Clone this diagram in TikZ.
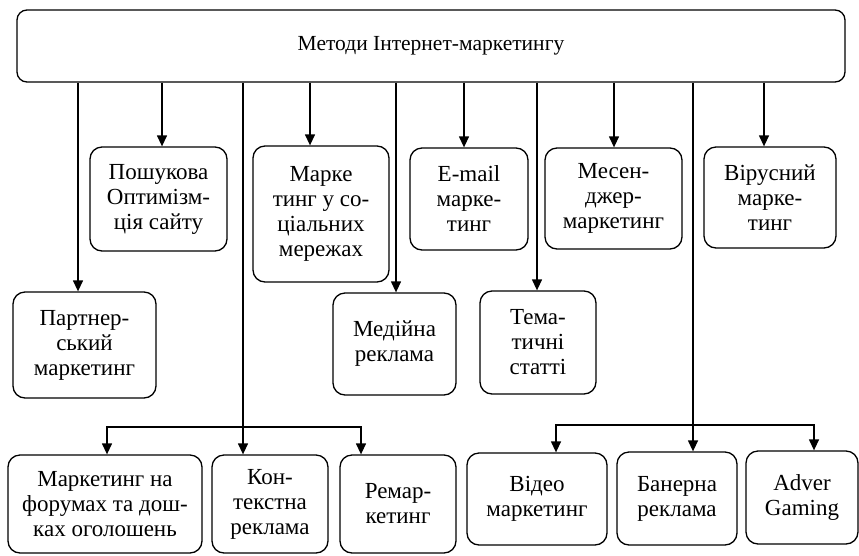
\documentclass[tikz,border=0pt]{standalone}
\usepackage{fontspec}
\setmainfont{Liberation Serif}
\usetikzlibrary{arrows.meta,positioning}

\begin{document}
\begin{tikzpicture}[x=1pt, y=-1pt,
  box/.style={draw, line width=1.3pt, rounded corners=12pt, align=center,
              inner sep=0pt, font=\fontsize{23}{25}\selectfont},
  arr/.style={line width=1.3pt, -{Triangle[length=11pt,width=10pt]}}]
  \useasboundingbox (0,0) rectangle (859,555);

  % Top box
  \node[box, rounded corners=10pt, minimum width=828pt, minimum height=72pt,
        font=\fontsize{21.5}{25}\selectfont] (top) at (431,46) {Методи Інтернет-маркетингу};

  % First row
  \node[box, minimum width=137pt, minimum height=104pt] (posh)  at (158.5,199) {Пошукова\\Оптимізм-\\ція сайту};
  \node[box, minimum width=136pt, minimum height=136pt] (soc)   at (321,214)   {Марке\\тинг у со-\\ціальних\\мережах};
  \node[box, minimum width=118pt, minimum height=102pt] (email) at (469,199)   {E-mail\\марке-\\тинг};
  \node[box, minimum width=137pt, minimum height=101pt] (mesen) at (613.5,198.5) {Месен-\\джер-\\маркетинг};
  \node[box, minimum width=132pt, minimum height=101pt] (vir)   at (770,197.5) {Вірусний\\марке-\\тинг};

  % Second row
  \node[box, minimum width=143pt, minimum height=106pt] (partn) at (84.5,345)  {Партнер-\\ський\\маркетинг};
  \node[box, minimum width=123pt, minimum height=102pt] (media) at (394.5,344) {Медійна\\реклама};
  \node[box, minimum width=116pt, minimum height=103pt] (tema)  at (538,342.5) {Тема-\\тичні\\статті};

  % Third row
  \node[box, minimum width=194pt, minimum height=98pt] (forum) at (105,504)   {Маркетинг на\\форумах та дош-\\ках оголошень};
  \node[box, minimum width=116pt, minimum height=98pt] (kont)  at (270,504)   {Кон-\\текстна\\реклама};
  \node[box, minimum width=116pt, minimum height=98pt] (remar) at (398,504)   {Ремар-\\кетинг};
  \node[box, minimum width=140pt, minimum height=92pt] (video) at (537,499)   {Відео\\маркетинг};
  \node[box, minimum width=120pt, minimum height=93pt] (baner) at (677,498.5) {Банерна\\реклама};
  \node[box, minimum width=112pt, minimum height=93pt] (adver) at (802,497.5) {Adver\\Gaming};

  % Direct arrows
  \foreach \x/\nm in {78/partn, 162/posh, 310/soc, 396/media, 464/email, 537/tema, 614/mesen, 764/vir} {
    \coordinate (a) at (\x,0);
    \draw[arr] (top.south -| a) -- (a |- \nm.north);
  }

  % Branches
  \coordinate (bL) at (243,427);
  \coordinate (bR) at (693,425);
  \draw[arr] (top.south -| bL) -- (bL |- kont.north);
  \draw[arr] (top.south -| bR) -- (bR |- baner.north);
  \foreach \x/\nm in {107/forum, 361/remar} {
    \coordinate (a) at (\x,0);
    \draw[arr] (bL) -| (a |- \nm.north);
  }
  \foreach \x/\nm in {556/video, 814/adver} {
    \coordinate (a) at (\x,0);
    \draw[arr] (bR) -| (a |- \nm.north);
  }
\end{tikzpicture}
\end{document}
